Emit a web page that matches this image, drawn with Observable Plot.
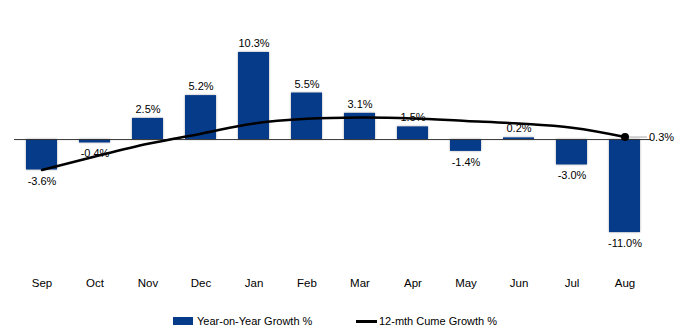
<!DOCTYPE html>
<html>
<head>
<meta charset="utf-8">
<script src="https://cdn.jsdelivr.net/npm/d3@7"></script>
<script src="https://cdn.jsdelivr.net/npm/@observablehq/plot@0.6"></script>
<style>
  body { margin: 0; background: #fff; font-family: "Liberation Sans", Arial, sans-serif; }
  #chart svg { display: block; }
  .legend { position: relative; height: 36px; font-size: 11px; color: #000; }
  .legend .item { position: absolute; top: 15px; display: flex; align-items: center; }
  .legend .sw-bar { width: 20px; height: 8px; background: #063b8a; margin-right: 4px; }
  .legend .sw-line { width: 21px; height: 3px; background: #000; margin-right: 2px; }
</style>
</head>
<body>
<div id="chart"></div>
<div class="legend">
  <div class="item" style="left:173px"><span class="sw-bar"></span><span>Year-on-Year Growth %</span></div>
  <div class="item" style="left:356px"><span class="sw-line"></span><span>12-mth Cume Growth %</span></div>
</div>
<script>
const months = ["Sep","Oct","Nov","Dec","Jan","Feb","Mar","Apr","May","Jun","Jul","Aug"];
const yoyGrowth = [-3.6, -0.4, 2.5, 5.2, 10.3, 5.5, 3.1, 1.5, -1.4, 0.2, -3.0, -11.0];
const cumeGrowth = [-3.6, -2.0, -0.5, 0.7, 1.9, 2.45, 2.6, 2.5, 2.2, 1.9, 1.4, 0.3];

const barData = months.map((m, i) => ({month: m, value: yoyGrowth[i]}));
const lineData = months.map((m, i) => ({month: m, value: cumeGrowth[i]}));
const lastPoint = [lineData[lineData.length - 1]];
const fmt = v => d3.format(".1f")(v).replace("\u2212", "-") + "%";
const barColor = "#063b8a";

const plot = Plot.plot({
  width: 682,
  height: 300,
  marginTop: 8,
  marginBottom: 51,
  marginLeft: 14,
  marginRight: 31,
  style: {fontFamily: "'Liberation Sans', Arial, sans-serif", fontSize: "11px", color: "#000", background: "#fff"},
  x: {domain: months, paddingInner: 0.42, paddingOuter: 0.21, label: null},
  y: {domain: [-13, 15.5], axis: null},
  marks: [
    Plot.barY(barData, {x: "month", y: "value", fill: barColor}),
    Plot.ruleY([0], {stroke: "#333", strokeWidth: 1}),
    Plot.text(barData.filter(d => d.value >= 0), {x: "month", y: "value", text: d => fmt(d.value), dy: -9, fontSize: 11, fill: "#000"}),
    Plot.text(barData.filter(d => d.value < 0), {x: "month", y: "value", text: d => fmt(d.value), dy: 11, fontSize: 11, fill: "#000"}),
    Plot.line(lineData, {x: "month", y: "value", stroke: "#000", strokeWidth: 2.5, curve: "catmull-rom"}),
    Plot.tickY(lastPoint, {x: "month", y: "value", stroke: "#aaa", strokeWidth: 1, dx: 17, insetLeft: 0, insetRight: 10}),
    Plot.dot(lastPoint, {x: "month", y: "value", r: 4, fill: "#000"}),
    Plot.text(lastPoint, {x: "month", y: "value", text: d => fmt(d.value), dx: 24, textAnchor: "start", fontSize: 11, fill: "#000"}),
    Plot.axisX({tickSize: 0, tickPadding: 29, fontSize: 11.5, fill: "#000"})
  ]
});
document.getElementById("chart").appendChild(plot);
const barG = plot.querySelector('g[aria-label="bar"]');
if (barG) barG.style.filter = "drop-shadow(0 0 1.2px rgba(0,0,0,0.35))";
</script>
</body>
</html>
